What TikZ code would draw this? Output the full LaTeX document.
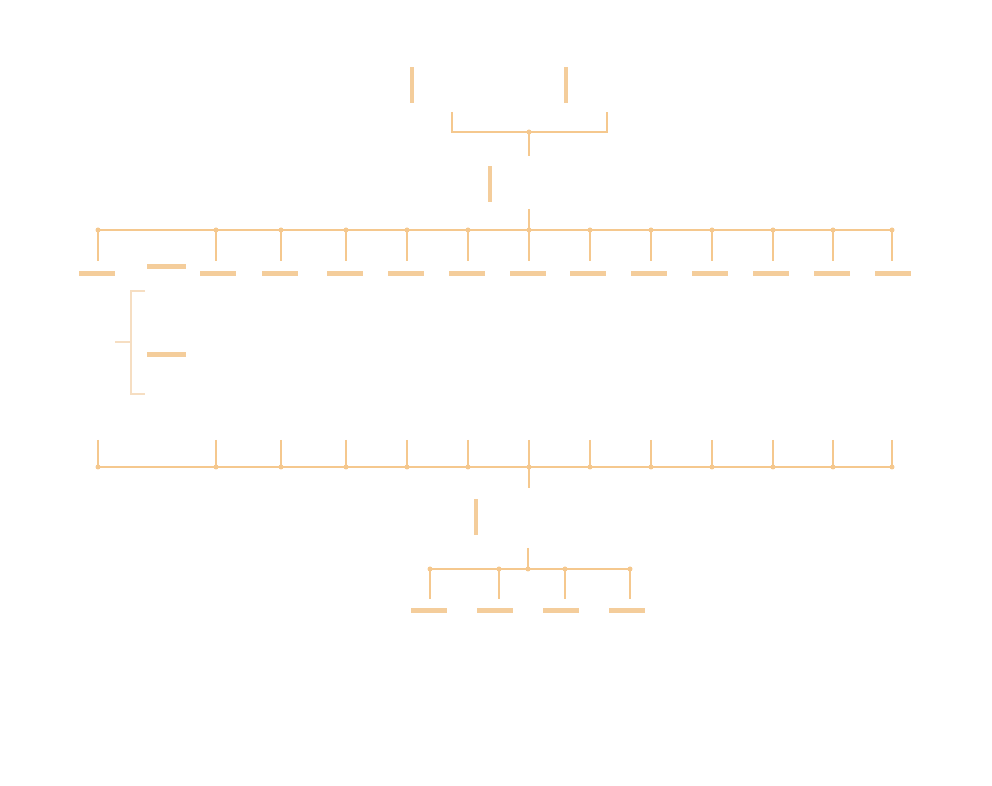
\documentclass[tikz,border=0pt]{standalone}
\usepackage{xcolor}
\usetikzlibrary{arrows.meta,positioning}
\definecolor{barorange}{RGB}{244,205,155}
\definecolor{lineorange}{RGB}{245,200,142}
\definecolor{paleorange}{RGB}{246,222,194}

\begin{document}
\begin{tikzpicture}[x=0.02cm,y=-0.02cm,
hbar/.style={shape=rectangle,fill=barorange,inner sep=0pt,minimum width=0.72cm,minimum height=0.1cm},
widebar/.style={hbar,minimum width=0.78cm},
vbar/.style={shape=rectangle,fill=barorange,inner sep=0pt,minimum width=0.08cm,minimum height=0.72cm},
link/.style={lineorange,line width=0.6pt},
palelink/.style={paleorange,line width=0.6pt},
joint/.style={shape=circle,fill=lineorange,inner sep=0pt,minimum size=0.1cm}]
\useasboundingbox (0,0) rectangle (992,786);
% top pair and bracket
\node[vbar] (topl) at (412,85) {};
\node[vbar] (topr) at (566,85) {};
\coordinate (brl) at (452,112);
\coordinate (brr) at (607,112);
\node[joint] (j0) at (529,132) {};
\coordinate (j0b) at (529,156);
\draw[link] (brl) |- (j0.center) -| (brr);
\draw[link] (j0.center) -- (j0b);
\node[vbar] (mid) at (490,184) {};
% upper row
\coordinate (utop) at (529,209);
\foreach \x [count=\i] in {98,216,281,346,407,468,529,590,651,712,773,833,892}{
\node[joint] (u\i) at (\x,230) {};
\coordinate (ud\i) at (\x,261);
\draw[link] (u\i.center) -- (ud\i);
}
\draw[link] (u1.center) -- (u13.center);
\draw[link] (utop) -- (u7.center);
\foreach \x [count=\i] in {97,218,280,345,406,467,528,588,649,710,771,832,893}
\node[hbar] (ub\i) at (\x,273.5) {};
\node[widebar] (side1) at (166.5,266.5) {};
\node[widebar] (side2) at (166.5,354.5) {};
% left bracket
\coordinate (lbt) at (145,291);
\coordinate (lbb) at (145,394);
\coordinate (lbm) at (131,342);
\coordinate (lbs) at (115,342);
\draw[palelink] (lbt) -| (131,394) -- (lbb);
\draw[palelink] (lbs) -- (lbm);
% lower row
\foreach \x [count=\i] in {98,216,281,346,407,468,529,590,651,712,773,833,892}{
\node[joint] (l\i) at (\x,467) {};
\coordinate (lu\i) at (\x,440);
\draw[link] (lu\i) -- (l\i.center);
}
\draw[link] (l1.center) -- (l13.center);
\coordinate (ldown) at (529,488);
\draw[link] (l7.center) -- (ldown);
\node[vbar] (low) at (476,517) {};
% bottom group
\coordinate (btop) at (528,548);
\foreach \x [count=\i] in {430,499,528,565,630}{
\node[joint] (b\i) at (\x,569) {};
\coordinate (bd\i) at (\x,599);
}
\draw[link] (btop) -- (b3.center);
\draw[link] (b1.center) -- (b5.center);
\foreach \i in {1,2,4,5}
\draw[link] (b\i.center) -- (bd\i);
\foreach \x [count=\i] in {429,495,561,627}
\node[hbar] (bb\i) at (\x,610.5) {};
\end{tikzpicture}
\end{document}
